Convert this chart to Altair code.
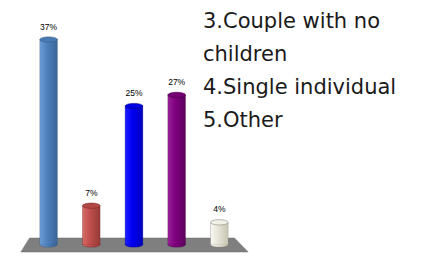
import altair as alt
import pandas as pd

# data
categories = ["1", "2", "3", "4", "5"]
values = [37, 7, 25, 27, 4]
labels = ["37%", "7%", "25%", "27%", "4%"]
legend_lines = ["3.Couple with no", "children", "4.Single individual", "5.Other"]

# styling
body_colors = [
    ["#6a9bd6", "#4f81bd", "#3b6699"],
    ["#d46a66", "#c0504d", "#983b38"],
    ["#1a1aff", "#0000f2", "#0000c0"],
    ["#962096", "#800080", "#5e005e"],
    ["#f7f6ef", "#e8e6da", "#c9c6b4"],
]
cap_colors = ["#4a7ab3", "#b24845", "#0000e0", "#740074", "#f2f1e8"]
edge_colors = ["#345a88", "#7a2c2a", "#00008a", "#4a004a", "#8a8878"]

# floor outline (x in category units, y in value units)
floor_x = [0.35, 0.554, 5.354, 5.674]
floor_top = [-1.35, 1.17, 1.17, -1.35]
floor_bottom = [-1.35, -1.35, -1.35, -1.35]

W, H = 411, 246
xs = alt.Scale(domain=[0.1657, 9.56], nice=False, zero=False)
ys = alt.Scale(domain=[-1.715, 42.69], nice=False, zero=False)

df = pd.DataFrame({"idx": [i + 1 for i in range(len(categories))],
                   "cat": categories, "value": values, "label": labels})
floor_df = pd.DataFrame({"x": floor_x, "top": floor_top, "bottom": floor_bottom})

X = alt.X("idx:Q", scale=xs, axis=None)

floor = alt.Chart(floor_df).mark_area(color="#7f7f7f", stroke="#6a6a6a", strokeWidth=0.5).encode(
    x=alt.X("x:Q", scale=xs, axis=None),
    y=alt.Y("top:Q", scale=ys, axis=None),
    y2="bottom:Q",
)

ellipse = "M -1 0 A 1 0.3 0 1 1 1 0 A 1 0.3 0 1 1 -1 0 Z"
BW = 17.5

layers = [floor]
for i in range(len(categories)):
    grad = alt.Gradient(
        gradient="linear", x1=0, x2=1, y1=0, y2=0,
        stops=[alt.GradientStop(color=body_colors[i][0], offset=0),
               alt.GradientStop(color=body_colors[i][1], offset=0.4),
               alt.GradientStop(color=body_colors[i][2], offset=1)],
    )
    sub = alt.Chart(df).transform_filter(alt.datum.idx == i + 1)
    bottom = sub.mark_point(shape=ellipse, size=BW * BW, filled=True, fill=grad,
                            stroke=edge_colors[i], strokeWidth=0.5, opacity=1).encode(
        x=X, y=alt.Y("z:Q", scale=ys, axis=None)
    ).transform_calculate(z="0")
    body = sub.mark_bar(width=BW, fill=grad, stroke=edge_colors[i], strokeWidth=0.4).encode(
        x=X, y=alt.Y("value:Q", scale=ys, axis=None), y2=alt.datum(0)
    )
    body_cover = sub.mark_bar(width=BW - 0.8, fill=grad).encode(
        x=X, y=alt.Y("value:Q", scale=ys, axis=None), y2=alt.datum(0)
    )
    cap = sub.mark_point(shape=ellipse, size=BW * BW, filled=True, fill=cap_colors[i],
                         stroke=edge_colors[i], strokeWidth=0.6, opacity=1).encode(
        x=X, y=alt.Y("value:Q", scale=ys, axis=None)
    )
    layers += [bottom, body, body_cover, cap]

text = alt.Chart(df).mark_text(font="Liberation Sans", fontSize=8.5, dy=-10,
                               baseline="alphabetic", color="#000000").encode(
    x=X, y=alt.Y("value:Q", scale=ys, axis=None), text="label:N"
)
layers.append(text)

legend = alt.Chart(df).mark_text(font="DejaVu Sans", fontSize=21, lineHeight=33,
                                 align="left", baseline="top", color="#1a1a1a").encode(
    x=alt.value(195), y=alt.value(3), text=alt.value(legend_lines)
).transform_filter(alt.datum.idx == 1)
layers.append(legend)

chart = alt.layer(*layers).properties(
    width=W, height=H, padding=0, autosize="none", background="white"
).configure_view(stroke=None)

chart.save("out.html", embed_options={"renderer": "svg", "actions": False})
